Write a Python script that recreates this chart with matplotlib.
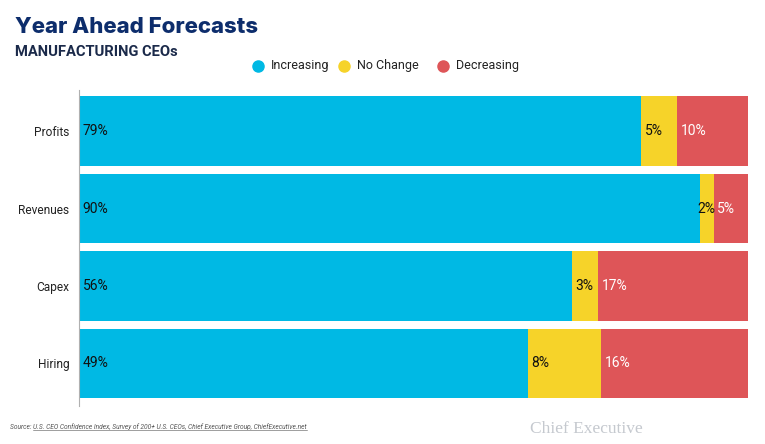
import numpy as np
import matplotlib.pyplot as plt
from matplotlib.lines import Line2D

categories = ['Profits', 'Revenues', 'Capex', 'Hiring']
increasing = [79, 90, 56, 49]
no_change = [5, 2, 3, 8]
decreasing = [10, 5, 17, 16]
series_names = ['Increasing', 'No Change', 'Decreasing']
colors = ['#00B9E4', '#F6D329', '#DE5558']
label_colors = ['#111111', '#111111', '#FFFFFF']

plt.rcParams['font.family'] = ['Roboto', 'DejaVu Sans']

vals = np.array([increasing, no_change, decreasing], dtype=float)
totals = vals.sum(axis=0)
shares = vals / totals * 100  # bars are stretched to full width

fig = plt.figure(figsize=(7.65, 4.44), dpi=100)
ax = fig.add_axes([79 / 765, 1 - 406 / 444, (748 - 79) / 765, (406 - 90) / 444])

y = np.arange(len(categories))
left = np.zeros(len(categories))
for i in range(3):
    ax.barh(y, shares[i], left=left, height=0.9, color=colors[i], edgecolor='none')
    for j in range(len(categories)):
        if shares[i][j] < 3:
            # too narrow: centre the label on the segment
            ax.text(left[j] + shares[i][j] / 2, y[j], f'{int(vals[i][j])}%', ha='center',
                    va='center', fontsize=10, color=label_colors[i])
        else:
            ax.annotate(f'{int(vals[i][j])}%', (left[j], y[j]), xytext=(2.6, 0),
                        textcoords='offset points', ha='left', va='center',
                        fontsize=10, color=label_colors[i])
    left += shares[i]

ax.set_xlim(0, 100)
ax.set_ylim(3.55, -0.53)
ax.set_yticks(y)
ax.set_yticklabels(categories, fontsize=8.6, color='#222222')
ax.tick_params(axis='y', length=0, pad=7)
ax.set_xticks([])
for s in ['top', 'right', 'bottom']:
    ax.spines[s].set_visible(False)
ax.spines['left'].set_color('#B0B0B0')
ax.spines['left'].set_linewidth(0.8)

# titles
fig.text(15 / 765, 1 - 27 / 444, 'Year Ahead Forecasts', fontsize=16, fontweight='heavy',
         color='#0D2D6C', family=['Inter', 'DejaVu Sans'], va='center')
fig.text(15 / 765, 1 - 52 / 444, 'MANUFACTURING CEOs', fontsize=10.6, fontweight='bold',
         color='#1B2A4A', va='center')

# legend
leg_x = [258, 344, 443]
for i in range(3):
    fig.add_artist(Line2D([leg_x[i] / 765], [1 - 66 / 444], marker='o', markersize=8,
                          color=colors[i], linestyle='none'))
    fig.text((leg_x[i] + 13) / 765, 1 - 66 / 444, series_names[i], fontsize=9,
             color='#222222', va='center')

# source note
src_y = 1 - 429 / 444
t1 = fig.text(10 / 765, src_y, 'Source: ', fontsize=4.8, style='italic', color='#555555',
              va='baseline')
fig.canvas.draw()
bb = t1.get_window_extent()
t2 = fig.text(bb.x1 / 765, src_y,
              'U.S. CEO Confidence Index, Survey of 200+ U.S. CEOs, Chief Executive Group, ChiefExecutive.net',
              fontsize=4.8, style='italic', color='#555555', va='baseline')
fig.canvas.draw()
bb2 = t2.get_window_extent()
uy = (src_y * 444 - 1.2) / 444
fig.add_artist(Line2D([bb2.x0 / 765, bb2.x1 / 765], [uy, uy], color='#555555', linewidth=0.4))

# logo
fig.text(530 / 765, 1 - 429 / 444, 'Chief Executive', fontsize=12.5,
         family=['Liberation Serif', 'DejaVu Serif'], color='#C5C9CF', va='center')

fig.savefig('out.png', dpi=100)
